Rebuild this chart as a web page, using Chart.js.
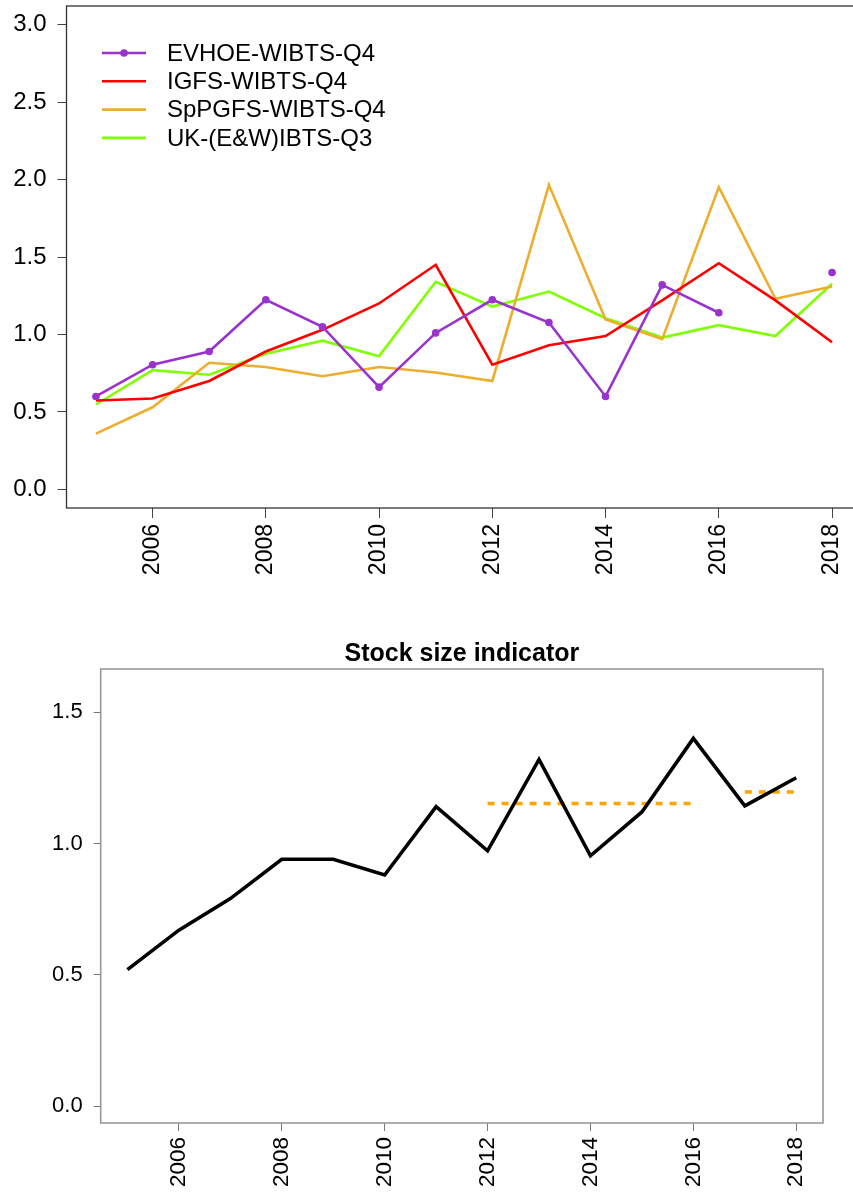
<!DOCTYPE html>
<html>
<head>
<meta charset="utf-8">
<script src="https://cdn.jsdelivr.net/npm/chart.js@4/dist/chart.umd.min.js"></script>
<style>
html,body{margin:0;padding:0;background:#fff;overflow:hidden;width:853px;height:1199px;}
#c1{position:absolute;left:0;top:0;}
#c2{position:absolute;left:0;top:610px;}
</style>
</head>
<body>
<canvas id="c1" width="880" height="600"></canvas>
<canvas id="c2" width="853" height="589"></canvas>
<script>
// ---------- data ----------
const years = [2005,2006,2007,2008,2009,2010,2011,2012,2013,2014,2015,2016,2017,2018];
const tickYears = [2006,2008,2010,2012,2014,2016,2018];

const seriesNames = ["EVHOE-WIBTS-Q4","IGFS-WIBTS-Q4","SpPGFS-WIBTS-Q4","UK-(E&W)IBTS-Q3"];
const evhoe  = [0.60,0.805,0.89,1.224,1.05,0.66,1.01,1.224,1.077,0.60,1.32,1.14,null,1.40];
const igfs   = [0.574,0.587,0.70,0.89,1.03,1.20,1.45,0.805,0.93,0.99,1.22,1.46,1.22,0.95];
const spp    = [0.36,0.53,0.817,0.79,0.73,0.79,0.755,0.70,1.966,1.097,0.97,1.95,1.23,1.31];
const ukibts = [0.548,0.77,0.74,0.875,0.96,0.86,1.34,1.18,1.277,1.105,0.98,1.06,0.99,1.327];
const topYTicks = [0,0.5,1.0,1.5,2.0,2.5,3.0];

const stockTitle = "Stock size indicator";
const stockIndex = [0.52,0.67,0.79,0.94,0.94,0.88,1.14,0.972,1.32,0.953,1.12,1.40,1.143,1.25];
const refYears1 = [2012,2016];
const refValue1 = 1.152;
const refYears2 = [2017,2018];
const refValue2 = 1.196;
const botYTicks = [0,0.5,1.0,1.5];

// ---------- helpers ----------
const FONT = "'Liberation Sans', Arial, sans-serif";
const pts = (xs, ys) => xs.map((x,i) => ({x:x, y:ys[i]}));
const flat = (xs, v) => xs.map(x => ({x:x, y:v}));
const noPadY = (w) => (s => { s.width = w; s.paddingTop = 0; s.paddingBottom = 0; });
const noPadX = (h) => (s => { s.height = h; s.paddingLeft = 0; s.paddingRight = 0; });

function boxPlugin(color, width){
  return {
    id:'box'+color.replace('#',''),
    afterDraw(chart){
      const a = chart.chartArea, ctx = chart.ctx;
      ctx.save();
      ctx.strokeStyle = color; ctx.lineWidth = width;
      ctx.strokeRect(a.left, a.top, a.right-a.left, a.bottom-a.top);
      ctx.restore();
    }
  };
}

// ---------- top chart ----------
const topColors = ["#9A32CD","#FF0000","#EEAD2D","#7FFF00"];
const topData = [evhoe, igfs, spp, ukibts];

const legendPlugin = {
  id:'rlegend',
  afterDraw(chart){
    const ctx = chart.ctx;
    ctx.save();
    ctx.font = "24px " + FONT;
    ctx.textBaseline = 'middle';
    ctx.textAlign = 'left';
    chart.data.datasets.forEach((ds,i) => {
      const y = 53 + i*28.3;
      ctx.strokeStyle = ds.borderColor; ctx.lineWidth = 2.6;
      ctx.beginPath(); ctx.moveTo(102,y); ctx.lineTo(146,y); ctx.stroke();
      if (ds.pointRadius > 0){
        ctx.fillStyle = ds.borderColor;
        ctx.beginPath(); ctx.arc(124,y,3.8,0,Math.PI*2); ctx.fill();
      }
      ctx.fillStyle = '#000';
      ctx.fillText(ds.label, 167, y+1);
    });
    ctx.restore();
  }
};

new Chart(document.getElementById('c1'), {
  type:'line',
  data:{
    datasets: seriesNames.map((n,i) => ({
      label:n,
      data: pts(years, topData[i]),
      borderColor: topColors[i],
      backgroundColor: topColors[i],
      borderWidth: 2.6,
      pointRadius: i===0 ? 3.8 : 0,
      pointBorderWidth: 0,
      spanGaps:false,
      tension:0
    }))
  },
  options:{
    responsive:false, animation:false,
    layout:{padding:{top:6,right:18.5,left:0,bottom:0}},
    plugins:{legend:{display:false},tooltip:{enabled:false},title:{display:false}},
    scales:{
      x:{
        type:'linear', min:2004.48, max:2018.52,
        afterBuildTicks: s => { s.ticks = tickYears.map(v => ({value:v})); },
        afterFit: noPadX(92),
        grid:{drawOnChartArea:false, drawTicks:true, tickLength:10, color:'#444', lineWidth:1},
        border:{display:false},
        ticks:{minRotation:90, maxRotation:90, padding:6, color:'#000',
               font:{family:FONT, size:23}, callback: v => String(v)}
      },
      y:{
        min:-0.12, max:3.12,
        afterBuildTicks: s => { s.ticks = topYTicks.map(v => ({value:v})); },
        afterFit: noPadY(66.5),
        grid:{drawOnChartArea:false, drawTicks:true, tickLength:9, color:'#444', lineWidth:1},
        border:{display:false},
        ticks:{padding:11, color:'#000', font:{family:FONT, size:24}, callback: v => Number(v).toFixed(1)}
      }
    }
  },
  plugins:[boxPlugin('#333',1.3), legendPlugin]
});

// ---------- bottom chart ----------
const titlePlugin = {
  id:'rtitle',
  afterDraw(chart){
    const a = chart.chartArea, ctx = chart.ctx;
    ctx.save();
    ctx.font = "bold 25px " + FONT;
    ctx.fillStyle = '#000';
    ctx.textAlign = 'center';
    ctx.textBaseline = 'middle';
    ctx.fillText(stockTitle, (a.left+a.right)/2, 44);
    ctx.restore();
  }
};

new Chart(document.getElementById('c2'), {
  type:'line',
  data:{
    datasets:[
      {label:'index', data: pts(years, stockIndex), borderColor:'#000', borderWidth:3.6,
       pointRadius:0, tension:0, borderJoinStyle:'miter'},
      {label:'ref1', data: flat(refYears1, refValue1), borderColor:'#FFA500', borderWidth:3.6,
       borderDash:[7,7], pointRadius:0, borderCapStyle:'butt'},
      {label:'ref2', data: flat(refYears2, refValue2), borderColor:'#FFA500', borderWidth:3.6,
       borderDash:[7,7], pointRadius:0, borderCapStyle:'butt'}
    ]
  },
  options:{
    responsive:false, animation:false,
    layout:{padding:{top:59,right:30,left:0,bottom:0}},
    plugins:{legend:{display:false},tooltip:{enabled:false},title:{display:false}},
    scales:{
      x:{
        type:'linear', min:2004.48, max:2018.52,
        afterBuildTicks: s => { s.ticks = tickYears.map(v => ({value:v})); },
        afterFit: noPadX(76),
        grid:{drawOnChartArea:false, drawTicks:true, tickLength:8, color:'#777', lineWidth:1},
        border:{display:false},
        ticks:{minRotation:90, maxRotation:90, padding:6, color:'#000',
               font:{family:FONT, size:22.5}, callback: v => String(v)}
      },
      y:{
        min:-0.064, max:1.664,
        afterBuildTicks: s => { s.ticks = botYTicks.map(v => ({value:v})); },
        afterFit: noPadY(100.7),
        grid:{drawOnChartArea:false, drawTicks:true, tickLength:7, color:'#777', lineWidth:1},
        border:{display:false},
        ticks:{padding:11, color:'#000', font:{family:FONT, size:22}, callback: v => Number(v).toFixed(1)}
      }
    }
  },
  plugins:[boxPlugin('#999',1.6), titlePlugin]
});
</script>
</body>
</html>
